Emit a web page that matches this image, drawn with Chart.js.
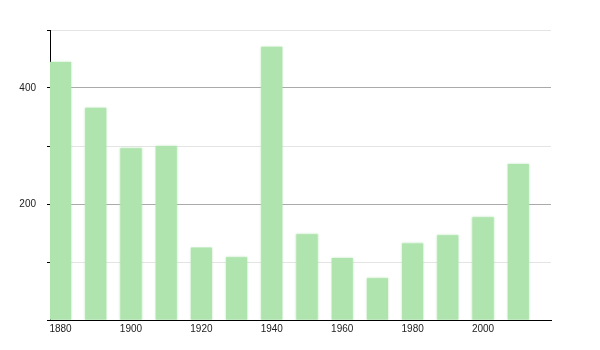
<!DOCTYPE html>
<html>
<head>
<meta charset="utf-8">
<script src="https://cdn.jsdelivr.net/npm/chart.js@4/dist/chart.umd.min.js"></script>
<style>
  html, body { margin: 0; padding: 0; background: #fff; }
  #wrap { width: 600px; height: 350px; position: relative; }
</style>
</head>
<body>
<div id="wrap"><canvas id="chart"></canvas></div>
<script>
// Datos del gráfico
const years  = [1880, 1890, 1900, 1910, 1920, 1930, 1940, 1950, 1960, 1970, 1980, 1990, 2000, 2010];
const values = [445, 366, 296, 300, 125, 108, 471, 148, 107, 72, 132, 146, 177, 269];
const xTicks = [1880, 1900, 1920, 1940, 1960, 1980, 2000];
const yTicks = [0, 100, 200, 300, 400, 500];
const yLabels = [200, 400];

// Sombra suave para imitar los bordes difuminados de las barras
const blurBars = {
  id: 'blurBars',
  beforeDatasetsDraw(chart) {
    const ctx = chart.ctx;
    ctx.save();
    ctx.shadowColor = 'rgba(175, 228, 175, 0.9)';
    ctx.shadowBlur = 2;
  },
  afterDatasetsDraw(chart) {
    chart.ctx.restore();
  }
};

new Chart(document.getElementById('chart'), {
  type: 'bar',
  data: {
    datasets: [{
      data: years.map((y, i) => ({ x: y, y: values[i] })),
      backgroundColor: 'rgb(175, 228, 175)',
      borderWidth: 0,
      barPercentage: 0.6,
      categoryPercentage: 1
    }]
  },
  plugins: [blurBars],
  options: {
    responsive: true,
    maintainAspectRatio: false,
    animation: false,
    layout: { padding: { top: 30, right: 49, left: 0, bottom: 0 } },
    plugins: {
      legend: { display: false },
      tooltip: { enabled: false }
    },
    scales: {
      x: {
        type: 'linear',
        offset: false,
        min: 1877,
        max: 2019.3,
        afterBuildTicks: (scale) => { scale.ticks = xTicks.map(v => ({ value: v })); },
        afterFit: (scale) => { scale.height = 30; },
        grid: { display: false, drawTicks: false },
        border: { display: true, color: '#000', width: 1 },
        ticks: {
          color: '#222',
          font: { family: 'Liberation Sans, Arial, sans-serif', size: 10 },
          padding: 3,
          maxRotation: 0,
          autoSkip: false,
          callback: (v) => String(v)
        }
      },
      y: {
        min: 0,
        max: 500,
        afterBuildTicks: (scale) => { scale.ticks = yTicks.map(v => ({ value: v })); },
        afterFit: (scale) => { scale.width = 50; },
        grid: {
          color: (c) => {
            const v = c.tick ? c.tick.value : 0;
            if (v === 0) return 'rgba(0,0,0,0)';
            return yLabels.includes(v) ? '#aaaaaa' : '#e4e4e4';
          },
          tickColor: '#000',
          tickLength: 3,
          lineWidth: 1
        },
        border: { display: true, color: '#000', width: 1 },
        ticks: {
          color: '#222',
          font: { family: 'Liberation Sans, Arial, sans-serif', size: 10 },
          padding: 11,
          autoSkip: false,
          callback: (v) => yLabels.includes(v) ? String(v) : ''
        }
      }
    }
  }
});
</script>
</body>
</html>
